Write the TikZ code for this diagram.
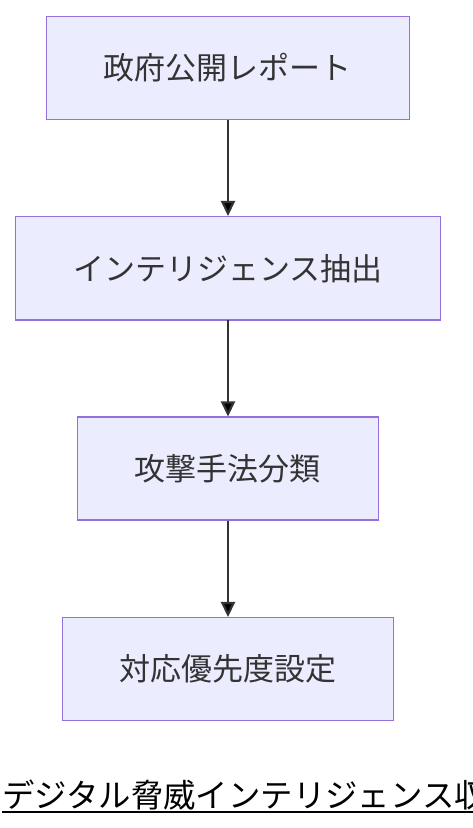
\documentclass[tikz,border=0pt]{standalone}
\usepackage{fontspec}
\setmainfont{Noto Sans CJK JP}
\usepackage{tikz}
\usetikzlibrary{matrix,arrows.meta}
\definecolor{boxfill}{HTML}{ECECFF}
\definecolor{boxline}{HTML}{9370DB}
\definecolor{ink}{HTML}{333333}
\tikzset{
	box/.style={draw=boxline, fill=boxfill, line width=1.5pt, text=ink,
		minimum height=103pt, inner xsep=0pt, font=\fontsize{31}{36}\selectfont},
	flow/.style={draw=ink, line width=2.2pt, -{Triangle[length=15pt,width=14pt]}}
}

\begin{document}
\begin{tikzpicture}[x=1pt,y=1pt]
			\useasboundingbox (0,0) rectangle (472,828);
			\matrix (b) [matrix of nodes, row sep=96pt, inner sep=0pt,
				nodes={box}] at (228,459.5)
			{
				|[minimum width=363pt]| 政府公開レポート \\
				|[minimum width=425pt]| インテリジェンス抽出 \\
				|[minimum width=301pt]| 攻撃手法分類 \\
				|[minimum width=331pt]| 対応優先度設定 \\};
			\path[flow]
			(b-1-1) edge (b-2-1)
			(b-2-1) edge (b-3-1)
			(b-3-1) edge (b-4-1);
			% title along the bottom
			\node (t) [anchor=base west, inner sep=0pt, font=\fontsize{32.4}{38}\selectfont]
				at (2,20) {デジタル脅威インテリジェンス収};
			\draw[line width=2pt] ([yshift=-4pt]t.base west) -- ([yshift=-4pt]t.base east);
		\end{tikzpicture}
\end{document}
